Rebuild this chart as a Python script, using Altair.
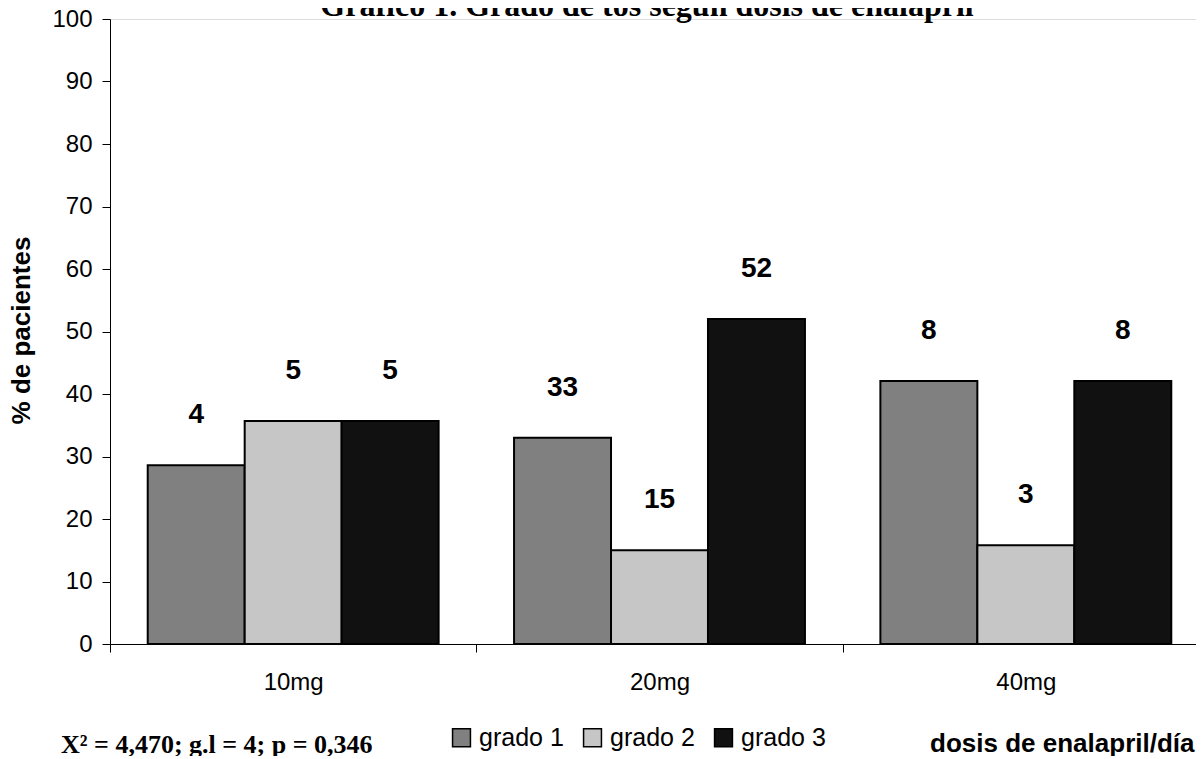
import altair as alt
import pandas as pd

# ---- data ----
doses = ["10mg", "20mg", "40mg"]
grades = ["grado 1", "grado 2", "grado 3"]
pct_grado1 = [28.6, 33.0, 42.1]
pct_grado2 = [35.7, 15.0, 15.8]
pct_grado3 = [35.7, 52.0, 42.1]
n_grado1 = ["4", "33", "8"]
n_grado2 = ["5", "15", "3"]
n_grado3 = ["5", "52", "8"]
y_ticks = list(range(0, 101, 10))
colors = ["#808080", "#c6c6c6", "#111111"]

title_text = "Gráfico 1. Grado de tos según dosis de enalapril"
stat_text = "X² = 4,470; g.l = 4; p = 0,346"
x_title = "dosis de enalapril/día"
y_title = "% de pacientes"

rows = []
for g, pcts, ns in zip(grades, [pct_grado1, pct_grado2, pct_grado3],
                       [n_grado1, n_grado2, n_grado3]):
    for d, p, n in zip(doses, pcts, ns):
        rows.append({"dosis": d, "grado": g, "pct": p, "n": n})
df = pd.DataFrame(rows)

SANS = "Liberation Sans"
SERIF = "Liberation Serif"
W, H = 1086, 625

x_enc = alt.X(
    "dosis:N", sort=doses,
    scale=alt.Scale(range=[0, 1099], paddingInner=0, paddingOuter=0),
    axis=alt.Axis(
        title=x_title, titleFont=SANS, titleFontSize=26, titleFontWeight="bold",
        titleColor="black", titleX=1084, titleY=99, titleAlign="right",
        titleAnchor="end", titleBaseline="middle",
        labelFont=SANS, labelFontSize=24, labelColor="black", labelAngle=0,
        labelBaseline="middle", labelPadding=30,
        tickBand="extent", tickSize=8, tickColor="black",
        domainColor="black", grid=False,
    ),
)
xoff_enc = alt.XOffset("grado:N", sort=grades,
                       scale=alt.Scale(paddingInner=0, paddingOuter=0.389))
y_enc = alt.Y(
    "pct:Q",
    scale=alt.Scale(domain=[0, 100], nice=False),
    axis=alt.Axis(
        values=y_ticks, title=y_title, titleFont=SANS, titleFontSize=26,
        titleFontWeight="bold", titleColor="black", titleX=-89, titleY=311,
        titleAngle=270, titleAlign="center", titleBaseline="middle",
        labelFont=SANS, labelFontSize=24, labelColor="black", labelPadding=10,
        tickSize=8, tickColor="black", domainColor="black", grid=False,
    ),
)

base = alt.Chart(df)

bars = base.mark_bar(stroke="black", strokeWidth=2, opacity=1).encode(
    x=x_enc,
    xOffset=xoff_enc,
    y=y_enc,
    color=alt.Color(
        "grado:N",
        scale=alt.Scale(domain=grades, range=colors),
        legend=alt.Legend(
            orient="none", legendX=339, legendY=706, direction="horizontal",
            title=None, symbolType="square", symbolSize=320,
            symbolStrokeColor="black", symbolStrokeWidth=1.5, symbolOpacity=1,
            labelFont=SANS, labelFontSize=25, labelColor="black",
            labelOffset=5, columnPadding=16, symbolOffset=0, padding=0,
        ),
    ),
)

labels = base.mark_text(
    font=SANS, fontSize=28, fontWeight="bold", color="black",
    baseline="middle", dy=-50,
).encode(
    x=alt.X("dosis:N", sort=doses),
    xOffset=alt.XOffset("grado:N", sort=grades),
    y="pct:Q",
    text="n:N",
)

title_layer = alt.Chart(pd.DataFrame({"t": [title_text]})).mark_text(
    font=SERIF, fontSize=32, fontWeight="bold", color="black",
    align="center", baseline="alphabetic",
).encode(x=alt.value(537), y=alt.value(-3), text="t:N")

stat_layer = alt.Chart(pd.DataFrame({"t": [stat_text]})).mark_text(
    font=SERIF, fontSize=26, fontWeight="bold", color="black",
    align="left", baseline="middle",
).encode(x=alt.value(-49), y=alt.value(726), text="t:N")

chart = alt.layer(bars, labels, title_layer, stat_layer).properties(
    width=W, height=H,
    autosize=alt.AutoSizeParams(type="none"),
    padding={"left": 102, "top": 11, "right": 0, "bottom": 112},
).configure_view(stroke=None).configure(background="white")

chart.save("out.html", embed_options={"renderer": "svg", "actions": False})
